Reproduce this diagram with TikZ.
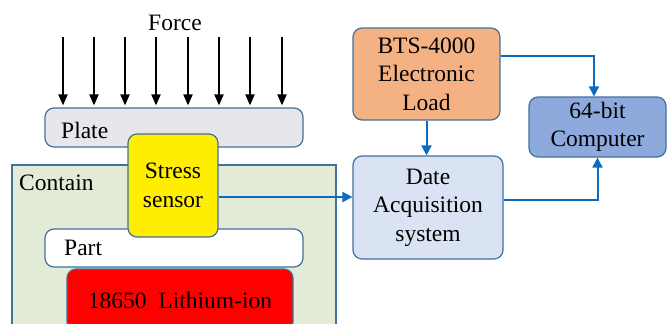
\documentclass[tikz,border=0pt]{standalone}
\usepackage{fontspec}
\setmainfont{Liberation Serif}
\newfontfamily\labelfont{Liberation Serif}
\usetikzlibrary{arrows.meta,calc}
\definecolor{edgeblue}{HTML}{41719C}
\definecolor{linkblue}{HTML}{0A6BC4}
\definecolor{platefill}{HTML}{E6E6EB}
\definecolor{containfill}{HTML}{E2EBD8}
\definecolor{sensorfill}{HTML}{FFEE00}
\definecolor{cellfill}{HTML}{FF0000}
\definecolor{loadfill}{HTML}{F4B183}
\definecolor{pcfill}{HTML}{8EA9DB}
\definecolor{daqfill}{HTML}{DAE3F3}
\tikzset{
  box/.style={draw=edgeblue, line width=1.2pt, rounded corners=9pt, inner sep=0pt,
    align=center, font=\labelfont\fontsize{23.5}{28.5}\selectfont},
  txt/.style={inner sep=0pt, font=\labelfont\fontsize{23.5}{28.5}\selectfont},
  force/.style={line width=2.2pt, -{Triangle[width=9pt,length=11pt]}},
  link/.style={draw=linkblue, line width=2pt, -{Triangle[width=10pt,length=10pt]}},
}
\begin{document}
\begin{tikzpicture}[x=1pt,y=-1pt]
\useasboundingbox (0,0) rectangle (667,324);
% container, plate, part, cell and sensor
\node[box, rounded corners=0pt, fill=containfill, minimum width=324pt, minimum height=170pt] (contain) at (174,250) {};
\node[txt, anchor=west] (containlbl) at (19,183) {Contain};
\node[box, fill=platefill, minimum width=258pt, minimum height=39pt] (plate) at (174,127.5) {};
\node[txt, anchor=west] (platelbl) at (61,130) {Plate};
\node[box, fill=white, minimum width=258pt, minimum height=38pt] (part) at (174,248) {};
\node[txt, anchor=west] (partlbl) at (64,248) {Part};
\node[box, fill=cellfill, minimum width=226pt, minimum height=62pt] (cell) at (180,300) {18650\ \ Lithium-ion};
\node[box, fill=sensorfill, minimum width=90pt, minimum height=103pt] (sensor) at (173,185.5) {Stress\\sensor};
% force arrows
\node[txt] (forcelbl) at (175,23) {Force};
\foreach \i/\x in {1/63,2/94,3/125,4/156,5/188,6/219,7/250,8/282}{
  \coordinate (f\i) at (\x,37);
  \draw[force, shorten >=2pt] (f\i) -- (f\i |- plate.north);
}
% instruments
\node[box, fill=loadfill, minimum width=147pt, minimum height=92pt] (load) at (426.5,74) {BTS-4000\\Electronic\\Load};
\node[box, fill=pcfill, minimum width=137pt, minimum height=60pt] (pc) at (597.5,127) {64-bit\\Computer};
\node[box, fill=daqfill, minimum width=150pt, minimum height=103pt] (daq) at (428,207.5) {Date\\Acquisition\\system};
% connections
\draw[link] ([yshift=18pt]load.east) -| ([xshift=-3.5pt]pc.north);
\draw[link] (load.south) -- (load.south |- daq.north);
\draw[link] ([yshift=8pt]daq.east) -| (pc.south);
\draw[link] ([yshift=-11.5pt]sensor.east) -- ([yshift=-11.5pt]sensor.east -| daq.west);
\end{tikzpicture}
\end{document}
